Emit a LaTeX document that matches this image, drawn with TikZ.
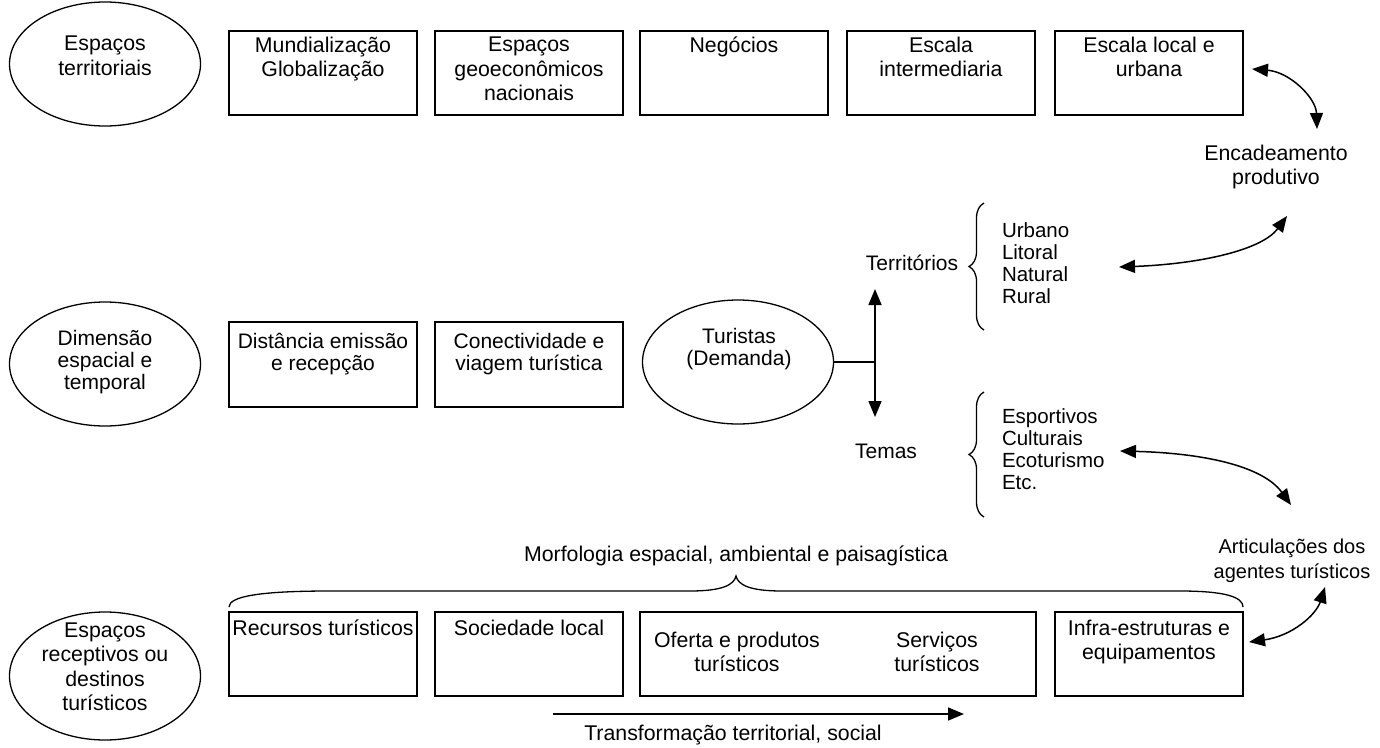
\documentclass[tikz,border=0pt]{standalone}
\usepackage{fontspec}
\setmainfont{Liberation Sans}
\usetikzlibrary{shapes.geometric,arrows.meta,decorations.pathreplacing}
\begin{document}
\begin{tikzpicture}[x=1pt,y=-1pt,
  every node/.style={inner sep=0pt, outer sep=0pt},
  txt/.style={align=center, font=\fontsize{21.3}{24.5}\selectfont},
  txtm/.style={align=center, font=\fontsize{21}{22}\selectfont},
  lst/.style={align=left, anchor=west, font=\fontsize{20.5}{21.8}\selectfont},
  box/.style={draw, line width=1.5pt, minimum width=188pt, minimum height=84pt, anchor=north west},
  oval/.style={draw, line width=1.3pt, ellipse, minimum width=191pt, minimum height=124pt},
  conn/.style={line width=1.5pt},
  tip/.tip={Triangle[length=16pt,width=13pt]},
  brc/.style={line width=1.3pt},
]
\useasboundingbox (0,0) rectangle (1380,747);

% ---------- top row: territorial spaces ----------
\node[oval] (e1) at (105,64) {};
\node[txt] (e1t) at (105,56) {Espaços\\territoriais};

\node[box] (b1) at (229,31) {};
\node[box] (b2) at (435,31) {};
\node[box] (b3) at (640,31) {};
\node[box] (b4) at (847,31) {};
\node[box] (b5) at (1055,31) {};
\node[txt, anchor=north] (b1t) at (323,37) {Mundialização\\Globalização};
\node[txt, anchor=north] (b2t) at (529,37) {Espaços\\geoeconômicos\\nacionais};
\node[txt, anchor=north] (b3t) at (734,37) {Negócios};
\node[txt, anchor=north] (b4t) at (941,37) {Escala\\intermediaria};
\node[txt, anchor=north] (b5t) at (1149,37) {Escala local e\\urbana};

\node[txt] (enc) at (1276,167) {Encadeamento\\produtivo};
\coordinate (a1s) at (1252,69);
\coordinate (a1e) at (1317,129);
\draw[conn,{tip}-{tip}] (a1s) .. controls (1290,72) and (1316,98) .. (a1e);

% ---------- middle row: spatial and temporal dimension ----------
\node[oval] (e2) at (105,364) {};
\node[txtm] (e2t) at (105,362) {Dimensão\\espacial e\\temporal};

\node[box, minimum height=85pt] (m1) at (229,322) {};
\node[box, minimum height=85pt] (m2) at (435,322) {};
\node[txtm, anchor=north] (m1t) at (323,333) {Distância emissão\\e recepção};
\node[txtm, anchor=north] (m2t) at (529,333) {Conectividade e\\viagem turística};

\node[oval] (tur) at (738,362) {};
\node[txtm] (turt) at (739,349) {Turistas\\(Demanda)};

\coordinate (hub) at (875,362);
\coordinate (upT) at (875,289);
\coordinate (dnT) at (875,417);
\draw[conn] (tur.east) -- (hub);
\draw[conn,-{tip}] (hub) -- (upT);
\draw[conn,-{tip}] (hub) -- (dnT);

\node[txtm] (terr) at (912,263) {Territórios};
\node[txtm] (tem) at (886,451) {Temas};

\draw[brc, decorate, decoration={brace, amplitude=15pt}] (984,330) -- (984,203);
\draw[brc, decorate, decoration={brace, amplitude=15pt}] (984,517) -- (984,392);

\node[lst] (tl) at (1002,263) {Urbano\\Litoral\\Natural\\Rural};
\node[lst] (ml) at (1002,449) {Esportivos\\Culturais\\Ecoturismo\\Etc.};

\coordinate (a2s) at (1119,267);
\coordinate (a2e) at (1287,216);
\draw[conn,{tip}-{tip}] (a2s) .. controls (1200,264) and (1262,250) .. (a2e);

\coordinate (a3s) at (1120,451);
\coordinate (a3e) at (1291,505);
\draw[conn,{tip}-{tip}] (a3s) .. controls (1200,453) and (1262,465) .. (a3e);

\node[txt, font=\fontsize{20}{24.5}\selectfont] (art) at (1292,561) {Articulações dos\\agentes turísticos};

% ---------- bottom row: receptive spaces ----------
\node[txt] (morf) at (736,556) {Morfologia espacial, ambiental e paisagística};
\draw[brc] (229,607) .. controls (229,596) and (262,591) .. (330,591)
  -- (690,591) .. controls (722,591) and (734,585) .. (736,576)
  .. controls (738,585) and (750,591) .. (782,591)
  -- (1180,591) .. controls (1225,591) and (1243,597) .. (1243,607);

\node[oval, minimum height=128pt] (e3) at (105,676) {};
\node[txt] (e3t) at (105,667) {Espaços\\receptivos ou\\destinos\\turísticos};

\node[box] (r1) at (229,612) {};
\node[box] (r2) at (435,612) {};
\node[box, minimum width=396pt] (r3) at (640,612) {};
\node[box] (r4) at (1055,612) {};
\node[txt, anchor=north] (r1t) at (323,620) {Recursos turísticos};
\node[txt, anchor=north] (r2t) at (529,620) {Sociedade local};
\node[txt] (r3a) at (737,652) {Oferta e produtos\\turísticos};
\node[txt] (r3b) at (937,652) {Serviços\\turísticos};
\node[txt, anchor=north] (r4t) at (1149,620) {Infra-estruturas e\\equipamentos};

\coordinate (a4s) at (1249,642);
\coordinate (a4e) at (1325,587);
\draw[conn,{tip}-{tip}] (a4s) .. controls (1292,636) and (1316,615) .. (a4e);

\coordinate (tf0) at (553,714);
\coordinate (tf1) at (964,714);
\draw[conn,-{tip}] (tf0) -- (tf1);
\node[txt] (trf) at (733,735) {Transformação territorial, social};
\end{tikzpicture}
\end{document}
